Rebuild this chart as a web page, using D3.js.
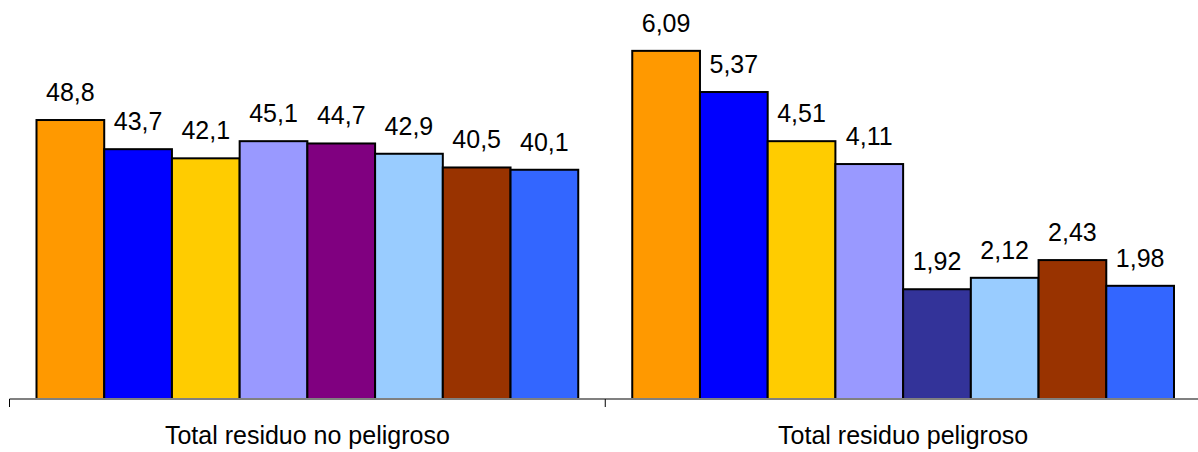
<!DOCTYPE html>
<html>
<head>
<meta charset="utf-8">
<script src="https://cdn.jsdelivr.net/npm/d3@7"></script>
<style>
  html, body { margin: 0; padding: 0; background: #fff; }
  svg { display: block; }
  text { font-family: "Liberation Sans", Arial, sans-serif; fill: #000; }
</style>
</head>
<body>
<svg id="chart" width="1198" height="452"></svg>
<script>
const categories = ["Total residuo no peligroso", "Total residuo peligroso"];
const noPeligroso = [48.8, 43.7, 42.1, 45.1, 44.7, 42.9, 40.5, 40.1];
const peligroso = [6.09, 5.37, 4.51, 4.11, 1.92, 2.12, 2.43, 1.98];
const coloursNoPeligroso = ["#FF9900", "#0000FF", "#FFCC00", "#9999FF", "#800080", "#99CCFF", "#993300", "#3366FF"];
const coloursPeligroso = ["#FF9900", "#0000FF", "#FFCC00", "#9999FF", "#333399", "#99CCFF", "#993300", "#3366FF"];
const decimals = [1, 2];
const yMax = [60, 6];

const groups = [
  { name: categories[0], values: noPeligroso, colours: coloursNoPeligroso, dec: decimals[0], max: yMax[0] },
  { name: categories[1], values: peligroso, colours: coloursPeligroso, dec: decimals[1], max: yMax[1] }
];

const svg = d3.select("#chart");
const baseY = 399, topY = 56;

const x = d3.scaleBand().domain(categories).range([9.5, 1201]).padding(0);
const inner = d3.scaleBand().domain(d3.range(8)).range([27, x.bandwidth() - 27]).padding(0);

groups.forEach(g => {
  const y = d3.scaleLinear().domain([0, g.max]).range([baseY, topY]);
  const gx = x(g.name);
  const grp = svg.append("g").attr("transform", `translate(${gx},0)`);
  grp.selectAll("rect").data(g.values).join("rect")
    .attr("x", (d, i) => inner(i))
    .attr("y", d => y(d))
    .attr("width", inner.bandwidth())
    .attr("height", d => baseY - y(d))
    .attr("fill", (d, i) => g.colours[i])
    .attr("stroke", "#000")
    .attr("stroke-width", 2);
  grp.selectAll("text.val").data(g.values).join("text")
    .attr("class", "val")
    .attr("x", (d, i) => inner(i) + inner.bandwidth() / 2)
    .attr("y", d => y(d) - 19)
    .attr("text-anchor", "middle")
    .style("font-size", "25px")
    .text(d => d.toFixed(g.dec).replace(".", ","));
});

// x axis
const axis = d3.axisBottom(x).tickSize(0).tickFormat("");
const axG = svg.append("g").attr("transform", `translate(0,${baseY})`);
axG.append("line").attr("x1", 9.5).attr("x2", 1201).attr("y1", 0).attr("y2", 0)
  .attr("stroke", "#808080").attr("stroke-width", 2);
const tickPos = [x(categories[0]), x(categories[1]), x(categories[1]) + x.bandwidth()];
axG.selectAll("line.tick").data(tickPos).join("line")
  .attr("class", "tick")
  .attr("x1", d => d).attr("x2", d => d)
  .attr("y1", 0).attr("y2", 8)
  .attr("stroke", "#000").attr("stroke-width", 1);
axG.selectAll("text.cat").data(categories).join("text")
  .attr("class", "cat")
  .attr("x", d => x(d) + x.bandwidth() / 2)
  .attr("y", 45)
  .attr("text-anchor", "middle")
  .style("font-size", "25px")
  .text(d => d);
</script>
</body>
</html>
